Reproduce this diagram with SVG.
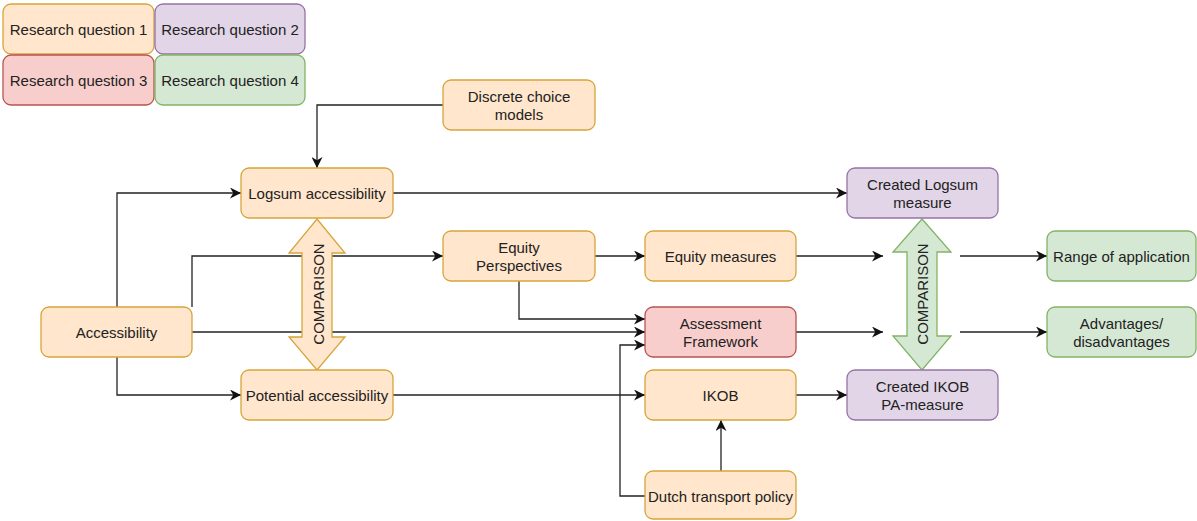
<svg xmlns="http://www.w3.org/2000/svg" width="1197" height="521" viewBox="0 0 1197 521">
  <style>
    text { font-family: "Liberation Sans", Arial, sans-serif; font-size: 15px; fill: #222; text-anchor: middle; dominant-baseline: central; }
    .orange { fill: #ffe6cc; stroke: #d6a53a; stroke-width: 1.3; }
    .purple { fill: #e1d5e7; stroke: #9673a6; stroke-width: 1.3; }
    .red { fill: #f8cecc; stroke: #b85450; stroke-width: 1.3; }
    .green { fill: #d5e8d4; stroke: #82b366; stroke-width: 1.3; }
    .edge { fill: none; stroke: #222; stroke-width: 1.3; }
  </style>
  <defs>
    <marker id="arrow" viewBox="0 0 10 10" refX="10" refY="5" markerWidth="11" markerHeight="11" markerUnits="userSpaceOnUse" orient="auto">
      <path d="M0,0 L10,5 L0,10 L3,5 Z" fill="#111"/>
    </marker>
  </defs>

  <rect width="1197" height="521" fill="#fff"/>

  <!-- legend -->
  <g id="rq1"><rect class="orange" x="3" y="4" width="151" height="50" rx="8"/><text x="78.5" y="29">Research question 1</text></g>
  <g id="rq2"><rect class="purple" x="155" y="4" width="150" height="50" rx="8"/><text x="230" y="29">Research question 2</text></g>
  <g id="rq3"><rect class="red" x="3" y="55" width="151" height="50" rx="8"/><text x="78.5" y="80">Research question 3</text></g>
  <g id="rq4"><rect class="green" x="155" y="55" width="150" height="50" rx="8"/><text x="230" y="80">Research question 4</text></g>

  <!-- connectors -->
  <g id="connectors">
    <path class="edge" d="M443,105 H317 V168" marker-end="url(#arrow)"/>
    <path class="edge" d="M117,307 V193 H241" marker-end="url(#arrow)"/>
    <path class="edge" d="M117,357 V395 H241" marker-end="url(#arrow)"/>
    <path class="edge" d="M192,307 V256 H443" marker-end="url(#arrow)"/>
    <path class="edge" d="M192,332 H645" marker-end="url(#arrow)"/>
    <path class="edge" d="M519,281 V319 H645" marker-end="url(#arrow)"/>
    <path class="edge" d="M645,496 H620 V345 H645" marker-end="url(#arrow)"/>
    <path class="edge" d="M393,395 H645" marker-end="url(#arrow)"/>
    <path class="edge" d="M393,193 H847" marker-end="url(#arrow)"/>
    <path class="edge" d="M796,395 H847" marker-end="url(#arrow)"/>
    <path class="edge" d="M721,471 V420" marker-end="url(#arrow)"/>
    <path class="edge" d="M595,256 H645" marker-end="url(#arrow)"/>
    <path class="edge" d="M796,256 H883" marker-end="url(#arrow)"/>
    <path class="edge" d="M796,332 H883" marker-end="url(#arrow)"/>
    <path class="edge" d="M960,256 H1047" marker-end="url(#arrow)"/>
    <path class="edge" d="M960,332 H1047" marker-end="url(#arrow)"/>
  </g>

  <!-- comparison double arrows -->
  <g id="comparison-left">
    <path class="orange" d="M317,219 L345,253 H332 V337 H345 L317,370 L289,337 H302 V253 H289 Z"/>
    <text transform="translate(318,294) rotate(-90)">COMPARISON</text>
  </g>
  <g id="comparison-right">
    <path class="green" d="M922,219 L951,252 H937 V336 H951 L922,370 L893,336 H907 V252 H893 Z"/>
    <text transform="translate(922,294) rotate(-90)">COMPARISON</text>
  </g>

  <!-- nodes -->
  <g id="discrete-choice"><rect class="orange" x="443" y="80" width="152" height="50" rx="8"/><text x="519" y="96">Discrete choice</text><text x="519" y="114">models</text></g>
  <g id="logsum"><rect class="orange" x="241" y="168" width="152" height="50" rx="8"/><text x="317" y="193">Logsum accessibility</text></g>
  <g id="accessibility"><rect class="orange" x="41" y="307" width="151" height="50" rx="8"/><text x="116.5" y="332">Accessibility</text></g>
  <g id="potential"><rect class="orange" x="241" y="370" width="152" height="50" rx="8"/><text x="317" y="395">Potential accessibility</text></g>
  <g id="equity-perspectives"><rect class="orange" x="443" y="231" width="152" height="50" rx="8"/><text x="519" y="247">Equity</text><text x="519" y="265">Perspectives</text></g>
  <g id="equity-measures"><rect class="orange" x="645" y="231" width="151" height="50" rx="8"/><text x="720.5" y="256">Equity measures</text></g>
  <g id="assessment"><rect class="red" x="645" y="307" width="151" height="50" rx="8"/><text x="720.5" y="323">Assessment</text><text x="720.5" y="341">Framework</text></g>
  <g id="ikob"><rect class="orange" x="645" y="370" width="151" height="50" rx="8"/><text x="720.5" y="395">IKOB</text></g>
  <g id="dutch-policy"><rect class="orange" x="645" y="471" width="151" height="48" rx="8"/><text x="720.5" y="496">Dutch transport policy</text></g>
  <g id="created-logsum"><rect class="purple" x="847" y="168" width="151" height="50" rx="8"/><text x="922.5" y="184">Created Logsum</text><text x="922.5" y="202">measure</text></g>
  <g id="created-ikob"><rect class="purple" x="847" y="370" width="151" height="50" rx="8"/><text x="922.5" y="386">Created IKOB</text><text x="922.5" y="404">PA-measure</text></g>
  <g id="range"><rect class="green" x="1047" y="231" width="149" height="50" rx="8"/><text x="1121.5" y="256">Range of application</text></g>
  <g id="advantages"><rect class="green" x="1047" y="307" width="149" height="50" rx="8"/><text x="1121.5" y="323">Advantages/</text><text x="1121.5" y="341">disadvantages</text></g>
</svg>
